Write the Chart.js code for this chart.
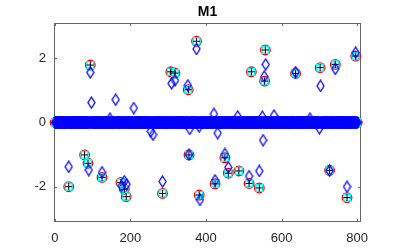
<!DOCTYPE html>
<html>
<head>
<meta charset="utf-8">
<script src="https://cdn.jsdelivr.net/npm/chart.js@4"></script>
<style>
html, body { margin: 0; padding: 0; background: #fff; }
</style>
</head>
<body>
<canvas id="c" width="399" height="250"></canvas>
<script>
// signal length and the non-zero entries
var n = 800;
var spikeIdx = [37, 79, 88, 94, 125, 175, 184, 189, 285, 307, 318, 353, 355, 375, 382, 424, 450, 459, 487, 514, 520, 541, 555, 557, 637, 702, 727, 742, 773, 796];
var spikeVal = [-2.0, -1.01, -1.27, 1.79, -1.71, -1.87, -2.08, -2.31, -2.21, 1.58, 1.54, 1.02, -1.01, 2.53, -2.26, -1.91, -1.1, -1.58, -1.51, -1.9, 1.58, -2.04, 1.29, 2.26, 1.53, 1.71, -1.49, 1.81, -2.34, 2.07];
// M1 recovery (diamonds)
var recIdx = [37, 90, 94, 97, 125, 146, 161, 177, 184, 190, 209, 254, 260, 285, 309, 318, 352, 355, 357, 375, 382, 384, 421, 424, 431, 450, 459, 484, 514, 541, 549, 551, 554, 558, 580, 637, 675, 700, 703, 727, 742, 773, 796];
var recVal = [-1.38, -1.48, 1.56, 0.62, -1.55, 0.12, 0.71, -1.98, -1.83, -1.92, 0.45, -0.28, -0.38, -1.84, 1.22, 1.31, 1.16, -1.0, -0.2, 2.29, -0.13, -2.41, 0.27, -1.8, -0.33, -0.98, -1.4, 0.19, -1.67, -1.51, 0.18, -0.55, 1.43, 1.81, 0.22, 1.57, 0.12, -0.18, 1.14, -1.5, 1.67, -2.0, 2.18];
var xTicks = [0, 200, 400, 600, 800];
var yTicks = [-2, 0, 2];
var titre = 'M1';

function fullSignal(idx, val) {
    var pts = [];
    for (var i = 1; i <= n; i++) pts.push({x: i, y: 0});
    idx.forEach(function (k, j) { pts[k - 1].y = val[j]; });
    return pts;
}

// matlab style diamond, a bit taller than wide
function diamond(w, h, color, lw) {
    var c = document.createElement('canvas');
    c.width = w + 2;
    c.height = h + 2;
    var g = c.getContext('2d');
    g.strokeStyle = color;
    g.lineWidth = lw;
    g.beginPath();
    g.moveTo(c.width / 2, 1);
    g.lineTo(c.width - 1, c.height / 2);
    g.lineTo(c.width / 2, c.height - 1);
    g.lineTo(1, c.height / 2);
    g.closePath();
    g.stroke();
    return c;
}

var truth = fullSignal(spikeIdx, spikeVal);
var rec = fullSignal(recIdx, recVal);

// axes box, inward ticks and the title centred on the plot area
var boxPlugin = {
    id: 'box',
    beforeDatasetsDraw: function (chart) {
        var a = chart.chartArea, ctx = chart.ctx,
            xs = chart.scales.x, ys = chart.scales.y;
        ctx.save();
        ctx.strokeStyle = '#666';
        ctx.lineWidth = 1;
        ctx.strokeRect(a.left + 0.5, a.top + 0.5, a.right - a.left - 1, a.bottom - a.top - 1);
        ctx.beginPath();
        xTicks.forEach(function (v) {
            var p = Math.round(xs.getPixelForValue(v)) + 0.5;
            ctx.moveTo(p, a.bottom); ctx.lineTo(p, a.bottom - 3);
            ctx.moveTo(p, a.top); ctx.lineTo(p, a.top + 3);
        });
        yTicks.forEach(function (v) {
            var p = Math.round(ys.getPixelForValue(v)) + 0.5;
            ctx.moveTo(a.left, p); ctx.lineTo(a.left + 3, p);
            ctx.moveTo(a.right, p); ctx.lineTo(a.right - 3, p);
        });
        ctx.stroke();
        ctx.fillStyle = '#000';
        ctx.font = 'bold 14px "Liberation Sans"';
        ctx.textAlign = 'center';
        ctx.textBaseline = 'middle';
        ctx.fillText(titre, (a.left + a.right) / 2, 12.5);
        ctx.restore();
    }
};

new Chart(document.getElementById('c'), {
    type: 'scatter',
    data: {
        datasets: [{
            label: 'M1',
            data: rec,
            pointStyle: diamond(7, 11, '#0000ff', 1.3),
            pointRadius: 6,
            clip: false
        }, {
            data: truth,
            pointStyle: 'cross',
            pointRadius: 3.5,
            pointBorderColor: '#000',
            pointBorderWidth: 1,
            clip: false
        }, {
            data: truth,
            pointStyle: 'rect',
            pointRadius: 4.8,
            pointBorderColor: '#00ffff',
            pointBackgroundColor: 'rgba(0,0,0,0)',
            pointBorderWidth: 1.4,
            clip: false
        }, {
            data: truth,
            pointStyle: 'circle',
            pointRadius: 4.8,
            pointBorderColor: '#ff0000',
            pointBackgroundColor: 'rgba(0,0,0,0)',
            pointBorderWidth: 1.3,
            clip: false
        }]
    },
    options: {
        responsive: false,
        animation: false,
        events: [],
        layout: { padding: { left: 0, right: 38, top: 23, bottom: 0 } },
        plugins: {
            legend: { display: false },
            tooltip: { enabled: false },
            title: { display: false }
        },
        scales: {
            x: {
                type: 'linear',
                min: -2,
                max: 810,
                afterBuildTicks: function (s) { s.ticks = xTicks.map(function (v) { return {value: v}; }); },
                afterFit: function (s) { s.height = 28; },
                grid: { display: false, drawTicks: false },
                border: { display: false },
                ticks: { color: '#262626', padding: 9, maxRotation: 0, font: { family: 'Liberation Sans', size: 13 } }
            },
            y: {
                min: -3.1,
                max: 3.1,
                afterBuildTicks: function (s) { s.ticks = yTicks.map(function (v) { return {value: v}; }); },
                afterFit: function (s) { s.width = 54; },
                grid: { display: false, drawTicks: false },
                border: { display: false },
                ticks: { color: '#262626', padding: 8, font: { family: 'Liberation Sans', size: 13 } }
            }
        }
    },
    plugins: [boxPlugin]
});
</script>
</body>
</html>
